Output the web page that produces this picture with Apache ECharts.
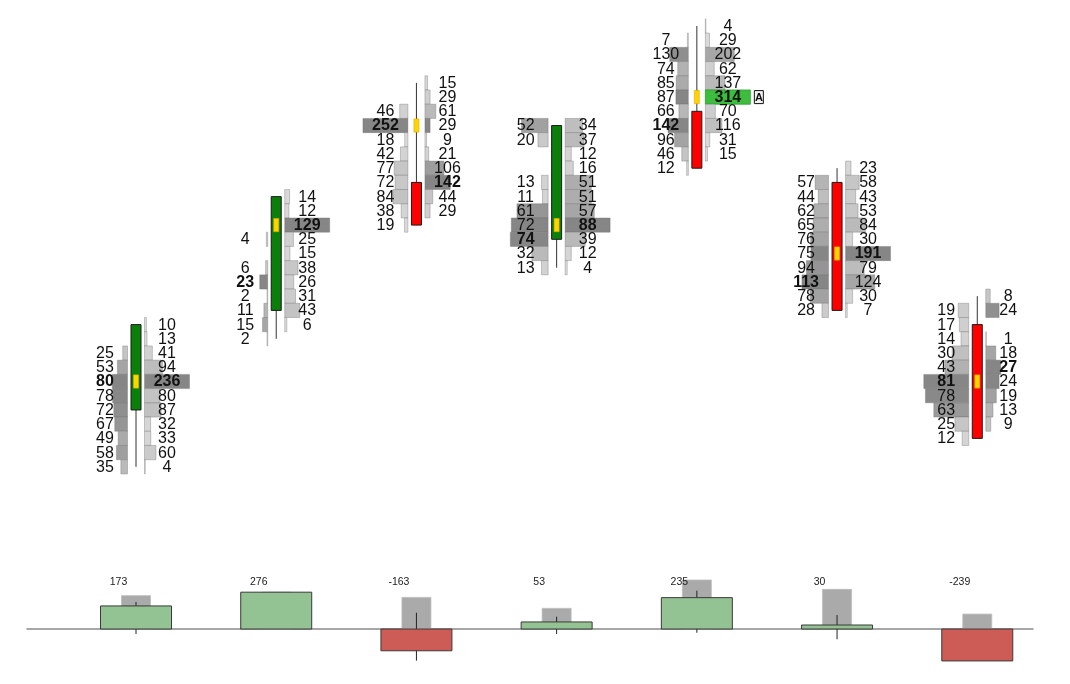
<!DOCTYPE html>
<html>
<head>
<meta charset="utf-8">
<script src="https://cdn.jsdelivr.net/npm/echarts@6/dist/echarts.min.js"></script>
<style>
html,body{margin:0;padding:0;background:#ffffff;}
#chart{width:1070px;height:684px;}
</style>
</head>
<body>
<div id="chart"></div>
<script>
// ---- data ----
const candles = [1, 2, 3, 4, 5, 6, 7];
const opens  = [73, 80, 89, 85, 94, 89, 79];
const highs  = [79, 88, 96, 93, 100, 90, 81];
const lows   = [69, 78, 86, 83, 90, 80, 71];
const closes = [79, 88, 86, 93, 90, 80, 71];
const pocs   = [75, 86, 93, 86, 95, 84, 75];
// volumes per price level, listed from the high down to the low (null = none)
const bidVolumes = [
  [null, null, 25, 53, 80, 78, 72, 67, 49, 58, 35],
  [null, null, null, 4, null, 6, 23, 2, 11, 15, 2],
  [null, null, 46, 252, 18, 42, 77, 72, 84, 38, 19],
  [52, 20, null, null, 13, 11, 61, 72, 74, 32, 13],
  [null, 7, 130, 74, 85, 87, 66, 142, 96, 46, 12],
  [null, 57, 44, 62, 65, 76, 75, 94, 113, 78, 28],
  [null, 19, 17, 14, 30, 43, 81, 78, 63, 25, 12]
];
const askVolumes = [
  [10, 13, 41, 94, 236, 80, 87, 32, 33, 60, 4],
  [14, 12, 129, 25, 15, 38, 26, 31, 43, 6, null],
  [15, 29, 61, 29, 9, 21, 106, 142, 44, 29, null],
  [34, 37, 12, 16, 51, 51, 57, 88, 39, 12, 4],
  [4, 29, 202, 62, 137, 314, 70, 116, 31, 15, null],
  [23, 58, 43, 53, 84, 30, 191, 79, 124, 30, 7],
  [8, 24, null, 1, 18, 27, 24, 19, 13, 9, null]
];
const markedCandle = 5;
const markedPrice = 95;
const markedTag = 'A';
// lower panel
const deltas = [173, 276, -163, 53, 235, 30, -239];
const deltaLabels = ['173', '276', '-163', '53', '235', '30', '-239'];
const deltaRef = [250, 276, 237, 155, 367, 297, 112];
const deltaHigh = [202, 240, 122, 92, 287, 105, -20];
const deltaLow = [-37, 20, -237, -37, -28, -77, -200];

// ---- rendering ----
const FONT = "'Liberation Sans', Arial, sans-serif";
const BAR_W = 45;

function maxOf(arr) {
  return Math.max.apply(null, arr.filter(v => v != null));
}
function grayFor(v, sideMax, isPoc) {
  if (isPoc) return 'rgb(134,134,134)';
  const r = v / sideMax;
  const g = Math.round(226 - 92 * r);
  return 'rgb(' + g + ',' + g + ',' + g + ')';
}

function renderFootprint(params, api) {
  const i = api.value(3);
  const c = candles[i];
  const xc = api.coord([c, highs[i]])[0];
  const rowH = api.size([0, 1])[1];
  const bids = bidVolumes[i], asks = askVolumes[i];
  const candleMax = Math.max(maxOf(bids), maxOf(asks));
  const bidMax = maxOf(bids), askMax = maxOf(asks);
  const xl = xc - 8.5, xr = xc + 8.5;
  const bars = [], texts = [];
  for (let k = 0; k < bids.length; k++) {
    const p = highs[i] - k;
    const y = api.coord([c, p])[1];
    const isPoc = p === pocs[i];
    const b = bids[k], a = asks[k];
    if (b != null) {
      const w = b / candleMax * BAR_W;
      bars.push({type: 'rect', shape: {x: xl - w, y: y - rowH / 2, width: w, height: rowH},
        style: {fill: grayFor(b, bidMax, isPoc), stroke: 'rgba(110,110,110,0.45)', lineWidth: 0.8}});
      texts.push({type: 'text', style: {text: String(b), x: xl - 22.5, y: y + 0.5, align: 'center', verticalAlign: 'middle',
        fontFamily: FONT, fontSize: 16, fontWeight: b === bidMax ? 'bold' : 'normal', fill: '#111'}});
    }
    if (a != null) {
      const w = a / candleMax * BAR_W;
      const marked = (c === markedCandle && p === markedPrice);
      bars.push({type: 'rect', shape: {x: xr, y: y - rowH / 2, width: w, height: rowH},
        style: {fill: marked ? '#3dbd3d' : grayFor(a, askMax, isPoc), stroke: marked ? '#2e9a2e' : 'rgba(110,110,110,0.45)', lineWidth: 0.8}});
      texts.push({type: 'text', style: {text: String(a), x: xr + 22.5, y: y + 0.5, align: 'center', verticalAlign: 'middle',
        fontFamily: FONT, fontSize: 16, fontWeight: a === askMax ? 'bold' : 'normal', fill: '#111'}});
      if (marked) {
        const bx = xr + w + 4;
        bars.push({type: 'rect', shape: {x: bx, y: y - 6.5, width: 9, height: 13},
          style: {fill: '#f2f2f2', stroke: '#111', lineWidth: 1}});
        texts.push({type: 'text', style: {text: markedTag, x: bx + 4.5, y: y + 0.5, align: 'center', verticalAlign: 'middle',
          fontFamily: FONT, fontSize: 11, fontWeight: 'bold', fill: '#111'}});
      }
    }
  }
  const yH = api.coord([c, highs[i]])[1];
  const yL = api.coord([c, lows[i]])[1];
  const yO = api.coord([c, opens[i]])[1];
  const yC = api.coord([c, closes[i]])[1];
  const yP = api.coord([c, pocs[i]])[1];
  const up = closes[i] >= opens[i];
  const candle = [
    {type: 'line', shape: {x1: xc, y1: yH, x2: xc, y2: yL}, style: {stroke: '#333', lineWidth: 1}},
    {type: 'rect', shape: {x: xc - 5, y: Math.min(yO, yC), width: 10, height: Math.abs(yO - yC)},
      style: {fill: up ? '#0a800a' : '#ff0000', stroke: '#1a1a1a', lineWidth: 1}},
    {type: 'rect', shape: {x: xc - 2.5, y: yP - rowH / 2 + 0.5, width: 5, height: rowH - 1},
      style: {fill: '#ffd400', stroke: '#e8a800', lineWidth: 0.6}}
  ];
  return {type: 'group', children: bars.concat(candle, texts)};
}

function renderDelta(params, api) {
  const i = api.value(5);
  const c = candles[i];
  const xc = api.coord([c, 0])[0];
  const y0 = api.coord([c, 0])[1];
  const yD = api.coord([c, deltas[i]])[1];
  const yR = api.coord([c, deltaRef[i]])[1];
  const yHi = api.coord([c, deltaHigh[i]])[1];
  const yLo = api.coord([c, deltaLow[i]])[1];
  const pos = deltas[i] >= 0;
  const labelY = params.coordSys.y + 22;
  return {type: 'group', children: [
    {type: 'rect', shape: {x: xc - 14.5, y: Math.min(y0, yR), width: 29, height: Math.abs(y0 - yR)},
      style: {fill: '#aaaaaa', stroke: '#bdbdbd', lineWidth: 0.8}},
    {type: 'line', shape: {x1: xc, y1: yHi, x2: xc, y2: yLo}, style: {stroke: '#222', lineWidth: 1}},
    {type: 'rect', shape: {x: xc - 35.5, y: Math.min(y0, yD), width: 71, height: Math.abs(y0 - yD)},
      style: {fill: pos ? '#93c293' : '#cd5c57', stroke: '#3a3a3a', lineWidth: 1}},
    {type: 'text', style: {text: deltaLabels[i], x: xc - 17.5, y: labelY, align: 'center', verticalAlign: 'middle',
      fontFamily: FONT, fontSize: 10.5, fill: '#222'}}
  ]};
}

const chart = echarts.init(document.getElementById('chart'), null, {renderer: 'canvas'});
const X_MIN = 0.2225, X_MAX = 7.3975;
chart.setOption({
  animation: false,
  backgroundColor: '#ffffff',
  grid: [
    {left: 27, width: 1006, top: 11.78, height: 469.26},
    {left: 27, width: 1006, top: 560, height: 110}
  ],
  xAxis: [
    {type: 'value', gridIndex: 0, min: X_MIN, max: X_MAX, show: false},
    {type: 'value', gridIndex: 1, min: X_MIN, max: X_MAX,
      axisLine: {show: true, onZero: true, lineStyle: {color: '#8a8a8a', width: 1.5}},
      axisTick: {show: false}, axisLabel: {show: false}, splitLine: {show: false}}
  ],
  yAxis: [
    {type: 'value', gridIndex: 0, min: 68, max: 101, show: false},
    {type: 'value', gridIndex: 1, min: -307, max: 517, show: false,
      axisLine: {show: false}, splitLine: {show: false}}
  ],
  series: [
    {
      type: 'custom', xAxisIndex: 0, yAxisIndex: 0,
      renderItem: renderFootprint,
      encode: {x: 0, y: [1, 2]},
      data: candles.map((c, i) => [c, highs[i], lows[i], i])
    },
    {
      type: 'custom', xAxisIndex: 1, yAxisIndex: 1,
      renderItem: renderDelta,
      encode: {x: 0, y: [1, 2]},
      data: candles.map((c, i) => [c, deltas[i], deltaRef[i], deltaHigh[i], deltaLow[i], i])
    }
  ]
});
</script>
</body>
</html>
